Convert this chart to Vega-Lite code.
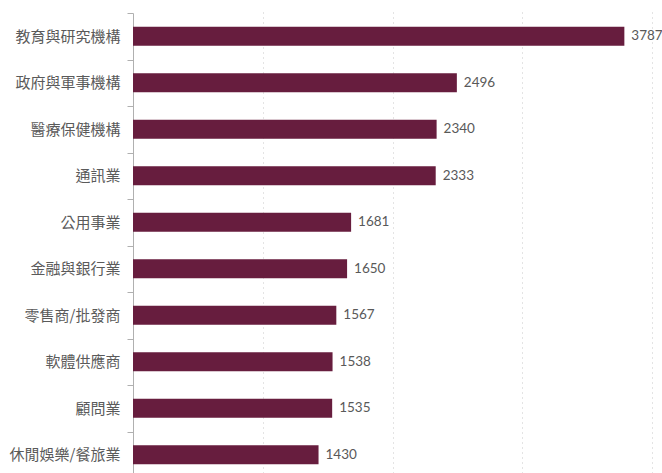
{
  "$schema": "https://vega.github.io/schema/vega-lite/v6.json",
  "width": 519,
  "height": 460,
  "autosize": "none",
  "padding": {"left": 133, "top": 13, "right": 10, "bottom": 0},
  "background": "white",
  "config": {"view": {"stroke": null}},
  "data": {
    "values": [
      {"industry": "教育與研究機構", "count": 3787},
      {"industry": "政府與軍事機構", "count": 2496},
      {"industry": "醫療保健機構", "count": 2340},
      {"industry": "通訊業", "count": 2333},
      {"industry": "公用事業", "count": 1681},
      {"industry": "金融與銀行業", "count": 1650},
      {"industry": "零售商/批發商", "count": 1567},
      {"industry": "軟體供應商", "count": 1538},
      {"industry": "顧問業", "count": 1535},
      {"industry": "休閒娛樂/餐旅業", "count": 1430}
    ]
  },
  "encoding": {
    "y": {
      "field": "industry",
      "type": "nominal",
      "sort": null,
      "scale": {"paddingInner": 0, "paddingOuter": 0, "range": [0, 465]},
      "axis": {
        "title": null,
        "domainColor": "#b0b0b0",
        "tickColor": "#b0b0b0",
        "tickSize": 6,
        "tickBand": "extent",
        "labelPadding": 7,
        "labelFont": "Noto Sans CJK TC",
        "labelFontSize": 15,
        "labelColor": "#5a5a5a",
        "grid": false
      }
    },
    "x": {
      "field": "count",
      "type": "quantitative",
      "scale": {"domain": [0, 4000]},
      "axis": {
        "title": null,
        "values": [1000, 2000, 3000, 4000],
        "labels": false,
        "ticks": false,
        "domain": false,
        "grid": true,
        "gridColor": "#c8c8c8",
        "gridDash": [1, 4],
        "gridWidth": 1
      }
    }
  },
  "layer": [
    {"mark": {"type": "bar", "size": 19, "color": "#671d3e"}},
    {
      "mark": {"type": "text", "align": "left", "dx": 7, "font": "Lato", "fontSize": 13.5, "color": "#595959"},
      "encoding": {"text": {"field": "count", "type": "quantitative", "format": "d"}}
    }
  ]
}
